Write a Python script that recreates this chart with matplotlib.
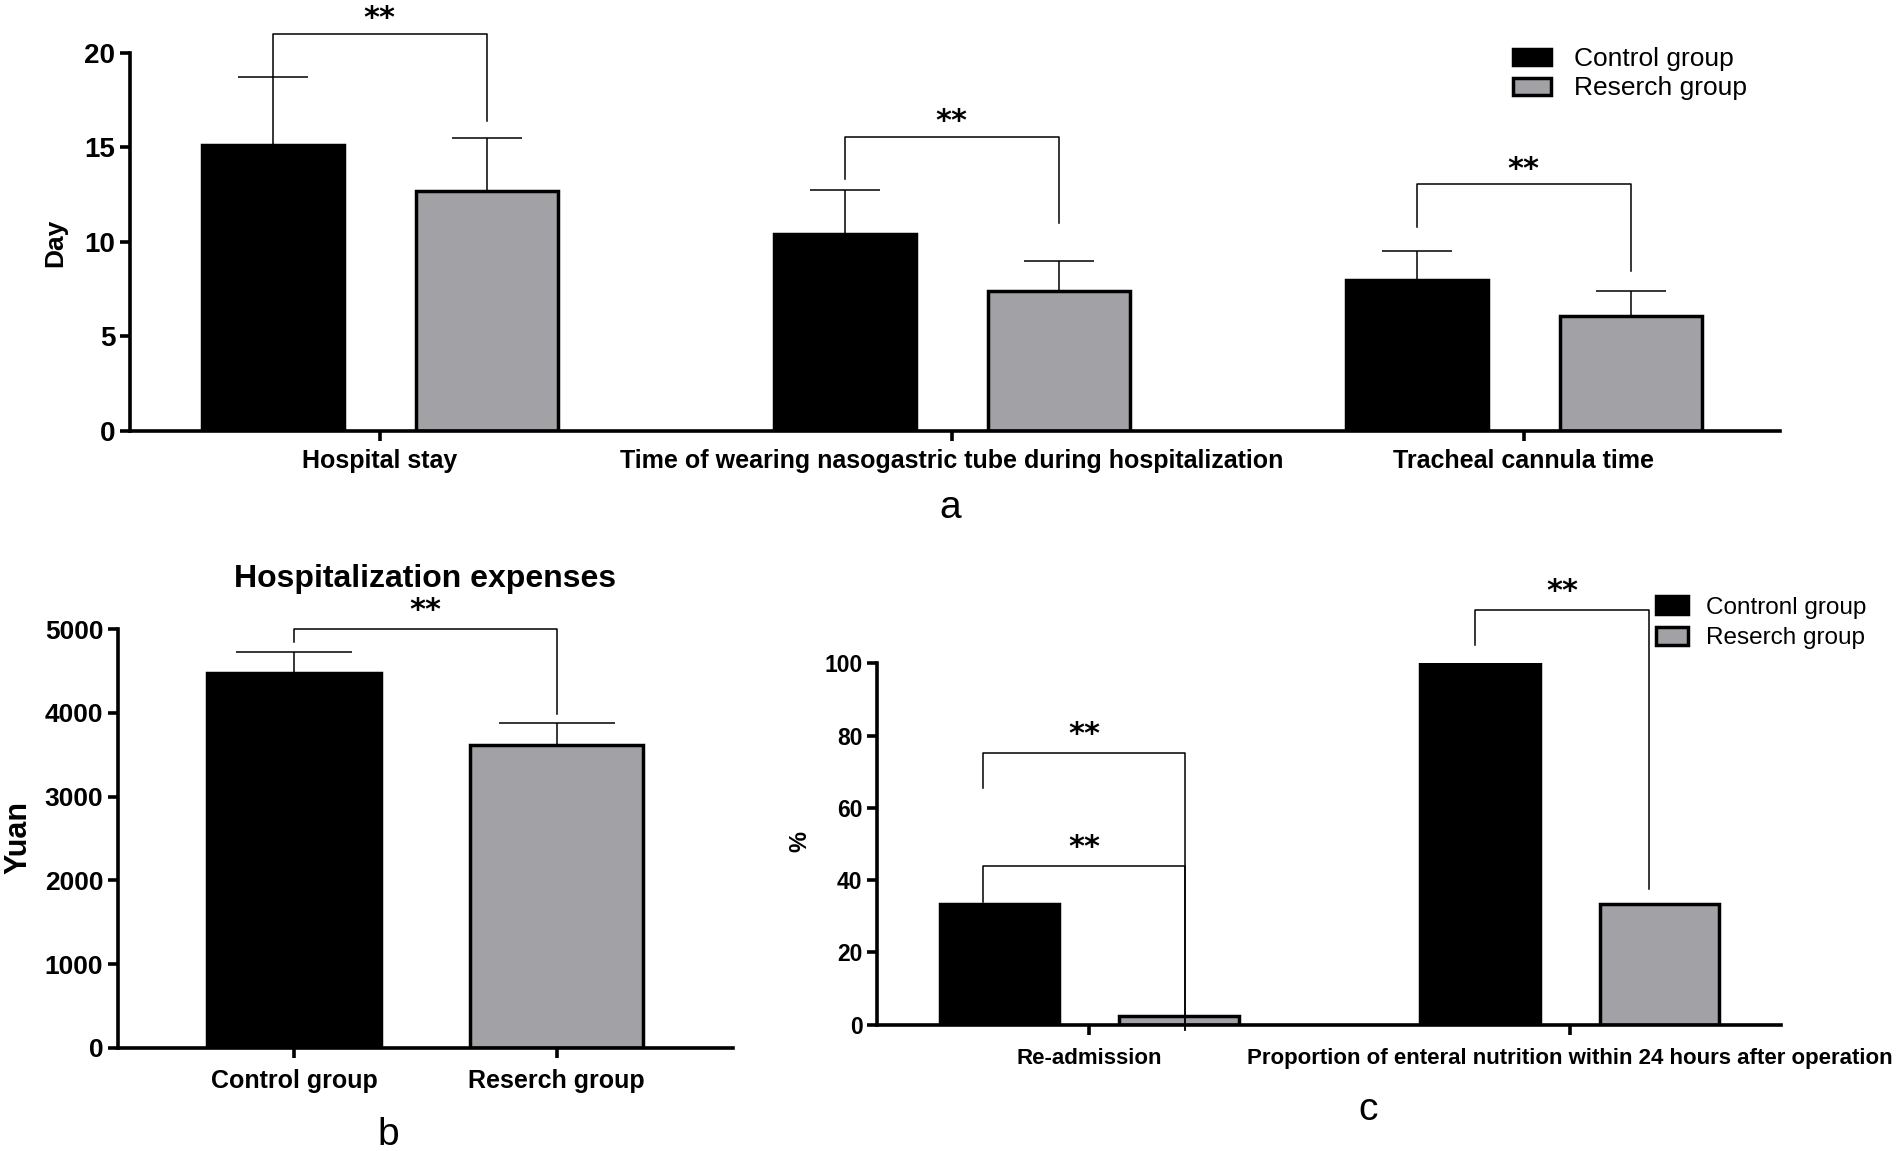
import matplotlib
matplotlib.use('Agg')
import matplotlib.pyplot as plt
import numpy as np

plt.rcParams['font.family'] = ['Liberation Sans', 'DejaVu Sans']

# ---- data ----
# a: days
a_categories = ['Hospital stay', 'Time of wearing nasogastric tube during hospitalization',
                'Tracheal cannula time']
a_control = [15.1, 10.4, 8.0]
a_control_sd = [3.6, 2.35, 1.5]
a_research = [12.7, 7.4, 6.1]
a_research_sd = [2.8, 1.6, 1.3]

# b: hospitalization expenses (yuan)
b_groups = ['Control group', 'Reserch group']
b_means = [4470, 3620]
b_sd = [250, 260]

# c: percentages
c_categories = ['Re-admission', 'Proportion of enteral nutrition within 24 hours after operation']
c_control = [33.3, 100]
c_research = [2.4, 33.3]

GRAY = '#a2a1a6'
SPINE_W = 2.6
STAR = dict(fontsize=22, fontweight='bold', family='DejaVu Sans', ha='center', va='center')


def style_axes(ax, pad):
    for s in ['top', 'right']:
        ax.spines[s].set_visible(False)
    for s in ['left', 'bottom']:
        ax.spines[s].set_linewidth(SPINE_W)
    ax.tick_params(width=SPINE_W, length=7)
    ax.tick_params(axis='x', pad=pad)


def bracket(ax, x1, x2, yl, yt, yr, off=11):
    ax.plot([x1, x1, x2, x2], [yl, yt, yt, yr], color='black', lw=1.1, clip_on=False)
    ax.annotate('**', xy=((x1 + x2) / 2, yt), xytext=(0, off), textcoords='offset points',
                annotation_clip=False, **STAR)


fig = plt.figure(figsize=(19.02, 11.51), dpi=100)

# ---------------- panel a ----------------
ax = fig.add_axes([0.0683, 0.6255, 0.8675, 0.3287])
x = np.arange(len(a_categories))
off, w = 0.187, 0.248
bc = ax.bar(x - off, a_control, w, color='black', edgecolor='black', linewidth=2.5)
br = ax.bar(x + off, a_research, w, color=GRAY, edgecolor='black', linewidth=2.5)
ax.errorbar(x - off, a_control, yerr=[np.zeros(3), a_control_sd], fmt='none', ecolor='black',
            elinewidth=1.1, capsize=25, capthick=1.1)
ax.errorbar(x + off, a_research, yerr=[np.zeros(3), a_research_sd], fmt='none', ecolor='black',
            elinewidth=1.1, capsize=25, capthick=1.1)
ax.set_xlim(-0.437, 2.448)
ax.set_ylim(0, 20)
ax.set_yticks([0, 5, 10, 15, 20])
ax.set_xticks(x)
ax.set_xticklabels(a_categories, fontsize=18, fontweight='bold')
for lab in ax.get_yticklabels():
    lab.set_fontsize(20)
    lab.set_fontweight('bold')
style_axes(ax, pad=6)
bracket(ax, -off, off, 18.7, 21.0, 16.4)
bracket(ax, 1 - off, 1 + off, 13.3, 15.56, 11.0)
bracket(ax, 2 - off, 2 + off, 10.8, 13.04, 8.47)
ax.legend([bc, br], ['Control group', 'Reserch group'], loc='upper left',
          bbox_to_anchor=(0.7955, 0.959), bbox_transform=fig.transFigure, frameon=False,
          fontsize=19, borderpad=0, borderaxespad=0, handlelength=1.45, handleheight=0.6,
          handletextpad=0.85, labelspacing=0.2)

# ---------------- panel b ----------------
ax = fig.add_axes([0.0620, 0.0895, 0.3233, 0.3640])
xb = np.arange(len(b_groups))
ax.bar(xb[0], b_means[0], 0.66, color='black', edgecolor='black', linewidth=2.5)
ax.bar(xb[1], b_means[1], 0.66, color=GRAY, edgecolor='black', linewidth=2.5)
ax.errorbar(xb, b_means, yerr=[np.zeros(2), b_sd], fmt='none', ecolor='black',
            elinewidth=1.1, capsize=42, capthick=1.1)
ax.set_xlim(-0.67, 1.67)
ax.set_ylim(0, 5000)
ax.set_yticks(np.arange(0, 5001, 1000))
ax.set_xticks(xb)
ax.set_xticklabels(b_groups, fontsize=18, fontweight='bold')
for lab in ax.get_yticklabels():
    lab.set_fontsize(19)
    lab.set_fontweight('bold')
style_axes(ax, pad=8)
bracket(ax, 0, 1, 4840, 5000, 3990, off=13)
ax.set_title('Hospitalization expenses', fontsize=23, fontweight='bold', pad=30)

# ---------------- panel c ----------------
ax = fig.add_axes([0.4611, 0.1099, 0.4753, 0.3137])
xc = np.arange(len(c_categories))
cc = ax.bar(xc - off, c_control, w, color='black', edgecolor='black', linewidth=2.5)
cr = ax.bar(xc + off, c_research, w, color=GRAY, edgecolor='black', linewidth=2.5)
ax.set_xlim(-0.441, 1.439)
ax.set_ylim(0, 100)
ax.set_yticks(np.arange(0, 101, 20))
ax.set_xticks(xc)
ax.set_xticklabels(c_categories, fontsize=16, fontweight='bold')
for lab in ax.get_yticklabels():
    lab.set_fontsize(16.5)
    lab.set_fontweight('bold')
style_axes(ax, pad=10)
bracket(ax, -0.22, 0.2, 65.6, 75.3, -1.5, off=13)
bracket(ax, -0.22, 0.2, 33.9, 43.9, -1.5, off=13)
bracket(ax, 0.802, 1.165, 105, 114.8, 37.6, off=13)
ax.legend([cc, cr], ['Contronl group', 'Reserch group'], loc='upper left',
          bbox_to_anchor=(0.8707, 0.482), bbox_transform=fig.transFigure, frameon=False,
          fontsize=17.5, borderpad=0, borderaxespad=0, handlelength=1.3, handleheight=0.75,
          handletextpad=0.75, labelspacing=0.35)

# axis titles and panel letters
fig.text(55 / 1902, 1 - 243 / 1151, 'Day', rotation=90, fontsize=19, fontweight='bold',
         ha='center', va='center')
fig.text(18 / 1902, 1 - 837 / 1151, 'Yuan', rotation=90, fontsize=22, fontweight='bold',
         ha='center', va='center')
fig.text(800 / 1902, 1 - 841 / 1151, '%', rotation=90, fontsize=17, fontweight='bold',
         ha='center', va='center')
fig.text(950 / 1902, 1 - 508 / 1151, 'a', fontsize=28, ha='center', va='center')
fig.text(388 / 1902, 1 - 1135 / 1151, 'b', fontsize=28, ha='center', va='center')
fig.text(1368 / 1902, 1 - 1110 / 1151, 'c', fontsize=28, ha='center', va='center')

fig.savefig('out.png', dpi=100, facecolor='white')
